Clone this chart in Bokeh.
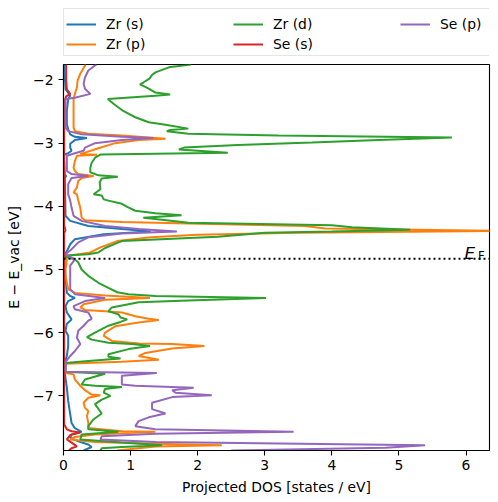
from bokeh.plotting import figure
from bokeh.layouts import column
from bokeh.models import Range1d, Legend, LegendItem, Label, Span, FixedTicker
from bokeh.embed import file_html
from bokeh.resources import INLINE

# ---------------- data ----------------
E_FERMI = -4.83
X_LIMITS = (0.0, 6.35)
E_LIMITS = (-7.865, -1.755)
X_TICKS = [0, 1, 2, 3, 4, 5, 6]
X_TICK_LABELS = ["0", "1", "2", "3", "4", "5", "6"]
Y_TICKS = [-7, -6, -5, -4, -3, -2]
Y_TICK_LABELS = ["\u22127", "\u22126", "\u22125", "\u22124", "\u22123", "\u22122"]

SERIES_NAMES = ["Zr (s)", "Zr (p)", "Zr (d)", "Se (s)", "Se (p)"]
SERIES_COLORS = ["#1f77b4", "#ff7f0e", "#2ca02c", "#d62728", "#9467bd"]

zr_s_E = [-1.755, -2.15, -2.20, -2.25, -2.30, -2.49, -2.70, -2.78, -2.86, -2.90, -2.92, -2.95,
          -3.01, -3.07, -3.12, -3.16, -3.185, -3.30, -3.50, -3.52, -3.55, -4.15, -4.23, -4.31,
          -4.36, -4.40, -4.44, -4.52, -4.60, -4.71, -4.78, -5.10, -5.37, -5.42, -5.45, -5.50,
          -5.58, -5.68, -5.79, -5.86, -5.97, -6.05, -6.21, -6.37, -6.47, -6.65, -6.87, -7.08,
          -7.29, -7.43, -7.51, -7.57, -7.61, -7.66, -7.72, -7.77, -7.81, -7.865]
zr_s_dos = [0.01, 0.03, 0.07, 0.10, 0.07, 0.05, 0.05, 0.07, 0.10, 0.17, 0.35, 0.17,
            0.10, 0.10, 0.12, 0.07, 0.00, 0.01, 0.02, 0.04, 0.02, 0.03, 0.10, 0.37,
            0.87, 1.30, 0.60, 0.17, 0.10, 0.05, 0.01, 0.03, 0.05, 0.10, 0.17, 0.07,
            0.03, 0.05, 0.12, 0.05, 0.03, 0.07, 0.07, 0.05, 0.02, 0.02, 0.05, 0.07,
            0.10, 0.12, 0.17, 0.27, 0.12, 0.10, 0.22, 0.37, 0.42, 0.30]

zr_p_E = [-1.755, -1.90, -2.01, -2.12, -2.22, -2.30, -2.49, -2.75, -2.81, -2.85, -2.88, -2.93,
          -2.95, -3.00, -3.08, -3.15, -3.17, -3.185, -3.20, -3.28, -3.39, -3.44, -3.49, -3.52,
          -3.55, -3.60, -3.70, -3.78, -3.81, -3.91, -4.02, -4.18, -4.22, -4.25, -4.27, -4.31,
          -4.35, -4.39, -4.42, -4.45, -4.49, -4.55, -4.65, -4.73, -4.77, -4.79, -4.85, -5.00,
          -5.10, -5.21, -5.31, -5.37, -5.41, -5.45, -5.48, -5.55, -5.60, -5.64, -5.66, -5.68,
          -5.74, -5.78, -5.80, -5.84, -5.90, -6.00, -6.05, -6.13, -6.17, -6.18, -6.21, -6.25,
          -6.32, -6.37, -6.43, -6.46, -6.49, -6.64, -6.66, -6.74, -6.84, -6.91, -6.98, -6.99,
          -7.03, -7.11, -7.19, -7.24, -7.32, -7.43, -7.51, -7.56, -7.57, -7.61, -7.65, -7.69,
          -7.73, -7.76, -7.78, -7.80, -7.865]
zr_p_dos = [0.33, 0.25, 0.21, 0.20, 0.17, 0.15, 0.15, 0.15, 0.17, 0.37, 0.87, 1.52,
            1.12, 0.77, 0.52, 0.32, 0.25, 0.50, 0.20, 0.17, 0.15, 0.17, 0.22, 0.45,
            0.27, 0.22, 0.20, 0.15, 0.20, 0.22, 0.25, 0.27, 0.32, 0.87, 1.86, 3.60,
            3.90, 6.60, 3.50, 2.00, 1.30, 0.80, 0.55, 0.40, 0.15, 0.03, 0.05, 0.03,
            0.03, 0.05, 0.07, 0.17, 0.62, 1.29, 0.62, 0.30, 0.25, 0.32, 0.62, 0.87,
            1.07, 1.27, 1.42, 1.12, 0.77, 0.62, 0.60, 0.72, 1.12, 1.62, 2.10, 1.62,
            1.22, 1.12, 1.42, 0.87, 0.03, 0.03, 0.15, 0.17, 0.25, 0.32, 0.42, 0.55,
            0.37, 0.30, 0.32, 0.37, 0.35, 0.37, 0.37, 0.87, 1.37, 0.47, 0.17, 0.10,
            0.47, 1.37, 2.36, 1.37, 0.80]

zr_d_E = [-1.755, -1.80, -1.88, -1.92, -1.98, -2.04, -2.07, -2.11, -2.15, -2.20, -2.23, -2.25,
          -2.30, -2.38, -2.49, -2.59, -2.67, -2.71, -2.77, -2.79, -2.81, -2.85, -2.88, -2.91,
          -2.95, -2.99, -3.03, -3.07, -3.10, -3.15, -3.18, -3.23, -3.31, -3.39, -3.46, -3.51,
          -3.53, -3.56, -3.62, -3.73, -3.81, -3.83, -3.89, -3.91, -3.96, -4.01, -4.07, -4.11,
          -4.14, -4.18, -4.20, -4.26, -4.30, -4.33, -4.37, -4.40, -4.42, -4.48, -4.55, -4.57,
          -4.66, -4.73, -4.76, -4.78, -4.80, -4.84, -4.89, -5.00, -5.10, -5.21, -5.29, -5.36,
          -5.39, -5.42, -5.45, -5.49, -5.52, -5.60, -5.66, -5.71, -5.76, -5.79, -5.83, -5.89,
          -6.00, -6.07, -6.11, -6.16, -6.18, -6.21, -6.26, -6.34, -6.38, -6.41, -6.45, -6.48,
          -6.62, -6.65, -6.74, -6.82, -6.84, -6.86, -6.89, -6.95, -7.00, -7.06, -7.13, -7.28,
          -7.37, -7.48, -7.53, -7.57, -7.61, -7.69, -7.74, -7.78, -7.81, -7.83, -7.865]
zr_d_dos = [1.90, 1.57, 1.37, 1.32, 1.28, 1.19, 1.14, 1.22, 1.29, 1.37, 1.59, 1.37,
            0.66, 0.75, 0.89, 1.07, 1.27, 1.52, 1.86, 1.59, 1.54, 1.86, 3.20, 5.79,
            4.70, 3.70, 2.60, 1.80, 1.72, 2.45, 0.55, 0.47, 0.42, 0.40, 0.40, 0.52,
            0.81, 0.57, 0.54, 0.55, 0.45, 0.57, 0.60, 0.67, 0.87, 0.95, 1.07, 1.37,
            1.76, 1.19, 1.37, 1.86, 4.00, 4.30, 5.17, 4.00, 3.00, 2.30, 0.87, 0.82,
            0.62, 0.52, 0.37, 0.03, 0.02, 0.17, 0.22, 0.27, 0.37, 0.52, 0.67, 0.80,
            0.97, 1.37, 3.02, 1.86, 1.12, 0.72, 0.67, 0.82, 0.85, 0.95, 0.85, 0.67,
            0.47, 0.35, 0.42, 0.67, 1.02, 1.29, 0.97, 0.67, 0.67, 0.85, 0.37, 0.03,
            0.03, 0.62, 0.32, 0.27, 0.47, 0.87, 0.62, 0.60, 0.70, 0.57, 0.47, 0.57,
            0.45, 0.37, 0.37, 0.82, 0.27, 0.25, 0.87, 1.47, 0.87, 0.57, 0.55]

se_s_E = [-1.755, -2.00, -2.15, -2.22, -2.26, -2.35, -4.30, -4.38, -4.42, -7.45, -7.53, -7.56,
          -7.58, -7.62, -7.69, -7.74, -7.80, -7.83, -7.865]
se_s_dos = [0.04, 0.04, 0.05, 0.10, 0.04, 0.01, 0.01, 0.03, 0.01, 0.01, 0.05, 0.12,
            0.25, 0.10, 0.05, 0.12, 0.20, 0.12, 0.08]

se_p_E = [-1.755, -1.85, -1.96, -2.06, -2.14, -2.22, -2.28, -2.30, -2.75, -2.81, -2.86, -2.90,
          -2.92, -2.95, -3.00, -3.07, -3.12, -3.16, -3.20, -3.44, -3.49, -3.52, -3.55, -3.65,
          -3.81, -3.91, -4.02, -4.15, -4.23, -4.31, -4.36, -4.40, -4.43, -4.49, -4.57, -4.68,
          -4.76, -4.80, -4.84, -4.94, -5.10, -5.31, -5.39, -5.45, -5.50, -5.58, -5.63, -5.68,
          -5.78, -5.81, -5.89, -5.97, -6.08, -6.18, -6.29, -6.37, -6.46, -6.62, -6.64, -6.68,
          -6.82, -6.84, -6.87, -6.91, -6.95, -6.99, -7.02, -7.11, -7.21, -7.28, -7.34, -7.40,
          -7.48, -7.53, -7.57, -7.60, -7.64, -7.69, -7.73, -7.78, -7.82, -7.865]
se_p_dos = [0.49, 0.37, 0.32, 0.30, 0.32, 0.40, 0.17, 0.03, 0.03, 0.07, 0.27, 0.87,
            1.34, 0.87, 0.47, 0.32, 0.30, 0.17, 0.05, 0.05, 0.12, 0.37, 0.12, 0.07,
            0.07, 0.10, 0.12, 0.15, 0.27, 0.62, 1.12, 1.69, 0.87, 0.37, 0.22, 0.12,
            0.03, 0.10, 0.17, 0.10, 0.10, 0.10, 0.17, 0.62, 0.32, 0.15, 0.17, 0.37,
            0.42, 0.37, 0.30, 0.22, 0.20, 0.25, 0.17, 0.10, 0.03, 0.03, 1.39, 0.87,
            0.87, 1.07, 1.94, 1.62, 1.67, 2.21, 1.62, 1.32, 1.32, 1.52, 1.27, 1.12,
            1.07, 1.37, 3.43, 1.37, 0.57, 0.55, 1.37, 5.39, 4.80, 2.50]

SERIES_E = [zr_s_E, zr_p_E, zr_d_E, se_s_E, se_p_E]
SERIES_DOS = [zr_s_dos, zr_p_dos, zr_d_dos, se_s_dos, se_p_dos]

FONT = "DejaVu Sans"
FS = "13.9px"
LINE_W = 2.0

# ---------------- main figure ----------------
p = figure(frame_width=426, frame_height=386,
           min_border_left=63, min_border_right=9, min_border_top=4, min_border_bottom=44,
           x_range=Range1d(*X_LIMITS), y_range=Range1d(*E_LIMITS),
           output_backend="svg", toolbar_location=None)
p.background_fill_color = "white"
p.border_fill_color = "white"
p.outline_line_color = "black"
p.outline_line_width = 1.1
p.xgrid.visible = False
p.ygrid.visible = False

for name, E, dos, col in zip(SERIES_NAMES, SERIES_E, SERIES_DOS, SERIES_COLORS):
    p.line(x=dos, y=E, line_color=col, line_width=LINE_W)

p.add_layout(Span(location=E_FERMI, dimension="width", line_color="black",
                  line_width=2.0, line_dash="2 3"))

for ax in (p.xaxis[0], p.yaxis[0]):
    ax.axis_line_color = "black"
    ax.axis_line_width = 1.1
    ax.major_tick_line_color = "black"
    ax.major_tick_line_width = 1.1
    ax.major_tick_in = 0
    ax.major_tick_out = 5
    ax.minor_tick_line_color = None
    ax.major_label_text_font = FONT
    ax.major_label_text_font_size = FS
    ax.major_label_text_color = "black"
    ax.axis_label_text_font = FONT
    ax.axis_label_text_font_size = FS
    ax.axis_label_text_font_style = "normal"
    ax.axis_label_text_color = "black"

p.xaxis.ticker = FixedTicker(ticks=X_TICKS)
p.xaxis.major_label_overrides = dict(zip(X_TICKS, X_TICK_LABELS))
p.yaxis.ticker = FixedTicker(ticks=Y_TICKS)
p.yaxis.major_label_overrides = dict(zip(Y_TICKS, Y_TICK_LABELS))
p.xaxis.axis_label = "Projected DOS [states / eV]"
p.xaxis.axis_label_standoff = 6
p.xaxis.major_label_standoff = 4
p.yaxis.axis_label = "E \u2212 E_vac [eV]"
p.yaxis.axis_label_standoff = 8

# E_F annotation next to the Fermi level line
p.add_layout(Label(x=401, y=E_FERMI, x_units="screen", y_units="data", y_offset=6,
                   text="E", text_font=FONT, text_font_size="16.7px", text_font_style="italic",
                   text_color="black", text_align="left", text_baseline="alphabetic"))
p.add_layout(Label(x=414.5, y=E_FERMI, x_units="screen", y_units="data", y_offset=3,
                   text="F", text_font=FONT, text_font_size="11.7px",
                   text_color="black", text_align="left", text_baseline="alphabetic"))

# ---------------- legend strip above the axes ----------------
# (its frame is aligned with the main axes by the column layout; the series
#  drawn here lie outside its y range, they only serve as legend handles)
lg = figure(width=498, height=60, min_border=0,
            x_range=Range1d(0, 1), y_range=Range1d(0, 1),
            x_axis_location=None, y_axis_location=None,
            output_backend="svg", toolbar_location=None)
lg.outline_line_color = None
lg.xgrid.visible = False
lg.ygrid.visible = False
lg.background_fill_color = "white"
lg.border_fill_color = "white"

handles = [lg.line(x=dos, y=E, line_color=c, line_width=LINE_W)
           for E, dos, c in zip(SERIES_E, SERIES_DOS, SERIES_COLORS)]
frame_handle = lg.line(x=zr_s_dos, y=zr_s_E, line_alpha=0)

legend_frame = Legend(items=[LegendItem(label=" ", renderers=[frame_handle])],
                      location=(0, 4), padding=0, margin=0,
                      glyph_width=30, glyph_height=46, label_standoff=10,
                      label_width=386, label_height=46,
                      border_line_color="#cccccc", border_line_width=1,
                      background_fill_color="white", background_fill_alpha=0.8)
lg.add_layout(legend_frame)

legend = Legend(items=[LegendItem(label=n, renderers=[r]) for n, r in zip(SERIES_NAMES, handles)],
                location=(0, 3), orientation="vertical", nrows=2,
                padding=3, margin=0, spacing=0,
                glyph_width=30, glyph_height=20, label_standoff=10,
                label_width=127, label_height=20,
                label_text_font=FONT, label_text_font_size=FS, label_text_color="black",
                border_line_alpha=0, background_fill_alpha=0)
lg.add_layout(legend)

layout = column(lg, p, spacing=0)
open("out.html", "w").write(file_html(layout, INLINE))
